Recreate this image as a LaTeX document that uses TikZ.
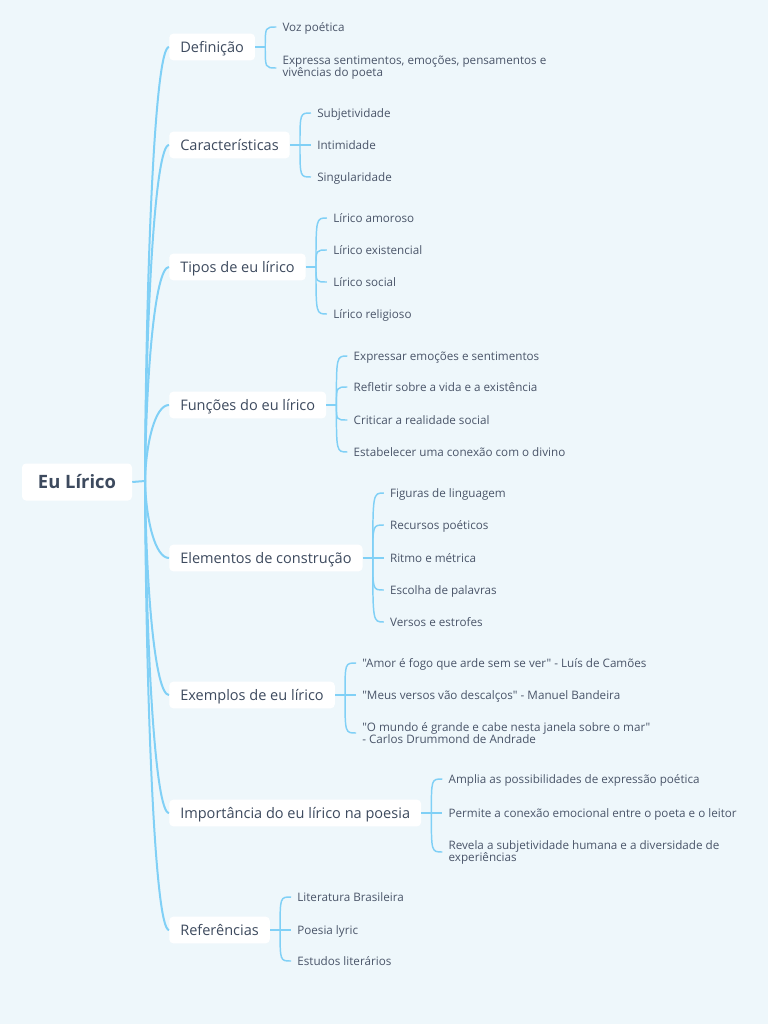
\documentclass[tikz,border=0pt]{standalone}
\usepackage{fontspec}
\setmainfont{Open Sans}[Ligatures=TeXOff]
\usepackage{tikz}
\usetikzlibrary{positioning,calc}

\definecolor{bgc}{HTML}{EEF7FB}
\definecolor{wire}{HTML}{80D0F6}
\definecolor{ink}{HTML}{3D4A5E}
\definecolor{leafink}{HTML}{4A5569}

\begin{document}
\begin{tikzpicture}[x=0.75pt,y=-0.75pt,
  root/.style={fill=white,rounded corners=3pt,minimum width=82.5pt,minimum height=27.75pt,
    text height=10.5pt,text depth=0.5pt,text=ink,font=\fontsize{13.8}{17}\selectfont\bfseries},
  box/.style={fill=white,rounded corners=3pt,minimum height=20pt,inner xsep=8.25pt,
    text height=9.5pt,text depth=1.7pt,text=ink,font=\fontsize{10.9}{12}\selectfont,anchor=west},
  leaf2/.style={anchor=west,inner xsep=4.5pt,inner ysep=1pt,align=left,
    text=leafink,font=\fontsize{8.75}{9}\selectfont},
  leaf/.style={leaf2,text height=7.5pt,text depth=1.25pt},
  link/.style={draw=wire,line width=1.5pt},
  twig/.style={draw=wire,line width=1.1pt}]
\fill[bgc] (0,0) rectangle (768,1024);
\useasboundingbox (0,0) rectangle (768,1024);

\node[root] (eu) at (77,482) {Eu Lírico};
\coordinate (jr) at (145,481);

% main branches
\node[box] (df) at (169,47) {Definição};
\node[box] (ca) at (169,145) {Características};
\node[box] (tp) at (169,267) {Tipos de eu lírico};
\node[box] (fn) at (169,405) {Funções do eu lírico};
\node[box] (el) at (169,558) {Elementos de construção};
\node[box] (ex) at (169,695) {Exemplos de eu lírico};
\node[box] (im) at (169,813) {Importância do eu lírico na poesia};
\node[box] (rf) at (169,930) {Referências};

\foreach \b in {df,ca,tp,fn,el,ex,im,rf}
  \coordinate (j\b) at ($(\b.east)+(10,0)$);

% leaves
\node[leaf] (df1) at ($(jdf)+(11,-20)$) {Voz poética};
\node[leaf2] (df2) at ($(jdf)+(11,21)$) {Expressa sentimentos, emoções, pensamentos e\\vivências do poeta};

\node[leaf] (ca1) at ($(jca)+(11,-32)$) {Subjetividade};
\node[leaf] (ca2) at ($(jca)+(11,0)$) {Intimidade};
\node[leaf] (ca3) at ($(jca)+(11,32)$) {Singularidade};

\node[leaf] (tp1) at ($(jtp)+(11,-49)$) {Lírico amoroso};
\node[leaf] (tp2) at ($(jtp)+(11,-17)$) {Lírico existencial};
\node[leaf] (tp3) at ($(jtp)+(11,15)$) {Lírico social};
\node[leaf] (tp4) at ($(jtp)+(11,47)$) {Lírico religioso};

\node[leaf] (fn1) at ($(jfn)+(11,-49)$) {Expressar emoções e sentimentos};
\node[leaf] (fn2) at ($(jfn)+(11,-18)$) {Refletir sobre a vida e a existência};
\node[leaf] (fn3) at ($(jfn)+(11,15)$) {Criticar a realidade social};
\node[leaf] (fn4) at ($(jfn)+(11,47)$) {Estabelecer uma conexão com o divino};

\node[leaf] (el1) at ($(jel)+(11,-65)$) {Figuras de linguagem};
\node[leaf] (el2) at ($(jel)+(11,-33)$) {Recursos poéticos};
\node[leaf] (el3) at ($(jel)+(11,0)$) {Ritmo e métrica};
\node[leaf] (el4) at ($(jel)+(11,32)$) {Escolha de palavras};
\node[leaf] (el5) at ($(jel)+(11,64)$) {Versos e estrofes};

\node[leaf] (ex1) at ($(jex)+(11,-32)$) {"Amor é fogo que arde sem se ver" - Luís de Camões};
\node[leaf] (ex2) at ($(jex)+(11,0)$) {"Meus versos vão descalços" - Manuel Bandeira};
\node[leaf2] (ex3) at ($(jex)+(11,38)$) {"O mundo é grande e cabe nesta janela sobre o mar"\\- Carlos Drummond de Andrade};

\node[leaf] (im1) at ($(jim)+(11,-34)$) {Amplia as possibilidades de expressão poética};
\node[leaf] (im2) at ($(jim)+(11,0)$) {Permite a conexão emocional entre o poeta e o leitor};
\node[leaf2] (im3) at ($(jim)+(11,39)$) {Revela a subjetividade humana e a diversidade de\\experiências};

\node[leaf] (rf1) at ($(jrf)+(11,-33)$) {Literatura Brasileira};
\node[leaf] (rf2) at ($(jrf)+(11,0)$) {Poesia lyric};
\node[leaf] (rf3) at ($(jrf)+(11,31)$) {Estudos literários};

% trunk
\draw[link] (eu.east) -- (jr);
\foreach \b in {df,ca,tp,fn,el,ex,im,rf}
  \draw[link] (jr) .. controls ($(jr)!0.5!(jr |- \b.west)+(1,0)$) and ($(jr |- \b.west)+(10,0)$) .. (\b.west);

% twigs
\foreach \b/\n in {df/2,ca/3,tp/4,fn/4,el/5,ex/3,im/3,rf/3} {
  \draw[twig] (\b.east) -- (j\b);
  \foreach \i in {1,...,\n}
    \draw[twig] (j\b) .. controls (j\b |- \b\i.west) .. (\b\i.west);
}
\end{tikzpicture}
\end{document}
